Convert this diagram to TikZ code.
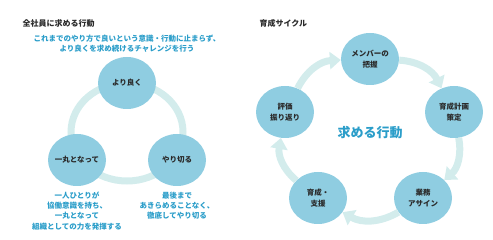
\documentclass[tikz,border=0pt]{standalone}
\usepackage{fontspec}
\setmainfont{Noto Sans CJK JP}
\usepackage{xcolor}
\usetikzlibrary{arrows.meta, positioning, shapes.geometric}

\definecolor{ballblue}{HTML}{8FCDE1}
\definecolor{paleteal}{HTML}{D3ECEC}
\definecolor{noteblue}{HTML}{2A9DC9}
\definecolor{inkgray}{HTML}{2B2B2B}

\begin{document}
\begin{tikzpicture}[
        x=1pt, y=-1pt,
        ball/.style={
            ellipse,
            fill=ballblue,
            minimum width=58pt,
            minimum height=52pt,
            inner xsep=-4pt, inner ysep=0pt,
            align=center,
            text=inkgray,
            font=\bfseries\fontsize{7.5}{11}\selectfont
        },
        heading/.style={anchor=west, text=inkgray, font=\bfseries\fontsize{8}{10}\selectfont},
        note/.style={align=center, text=noteblue, font=\bfseries\fontsize{7.5}{10.3}\selectfont},
        ring/.style={draw=paleteal, line width=7pt},
        flow/.style={-{Triangle[width=17pt,length=11pt]}, draw=paleteal, line width=7pt, bend left=30}
    ]
        \useasboundingbox (0,0) rectangle (493,240);

        % left: behaviour expected of everyone
        \node[heading] (lefttitle) at (19,23) {全社員に求める行動};
        \node[note] (aim) at (127,44) {これまでのやり方で良いという意識・行動に止まらず、\\より良くを求め続けるチャレンジを行う};
        \draw[ring] (127,132) ellipse [x radius=56, y radius=49];
        \node[ball] (better) at (127,83) {より良く};
        \node[ball] (unite) at (77,160) {一丸となって};
        \node[ball] (finish) at (177,160) {やり切る};
        \node[note, below=2pt of unite] (unitenote) {一人ひとりが\\協働意識を持ち、\\一丸となって\\組織としての力を発揮する};
        \node[note, below=2pt of finish] (finishnote) {最後まで\\あきらめることなく、\\徹底してやり切る};

        % right: development cycle
        \node[heading] (righttitle) at (256,23) {育成サイクル};
        \node[ball] (member) at (370,59) {メンバーの\\把握};
        \node[ball] (plan) at (454,112) {育成計画\\策定};
        \node[ball] (assign) at (423,198) {業務\\アサイン};
        \node[ball] (support) at (318,198) {育成・\\支援};
        \node[ball] (review) at (285,112) {評価\\振り返り};
        \node[text=noteblue, font=\bfseries\fontsize{13}{15}\selectfont] (goal) at (370,133) {求める行動};

        \draw[flow] (member) to (plan);
        \draw[flow] (plan) to (assign);
        \draw[flow] (assign) to (support);
        \draw[flow] (support) to (review);
        \draw[flow] (review) to (member);
    \end{tikzpicture}
\end{document}
